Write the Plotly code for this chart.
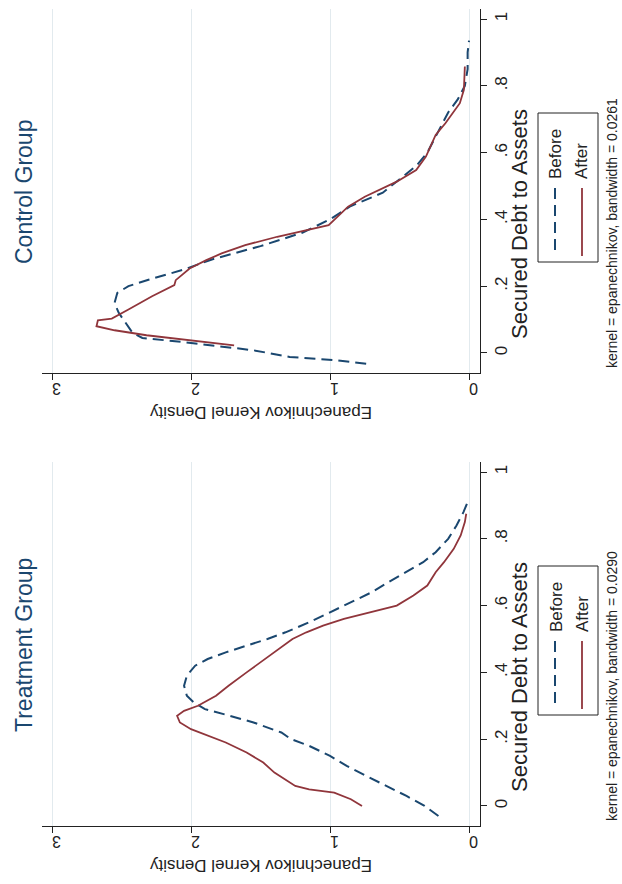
import plotly.graph_objects as go

W, H = 622, 884

# ---------------- data (secured debt to assets  vs  kernel density) -------------
ctrl_before_x = [-0.032, -0.022, -0.012, 0.008, 0.03, 0.045, 0.06, 0.09, 0.12, 0.15, 0.18,
                 0.20, 0.22, 0.25, 0.28, 0.32, 0.36, 0.40, 0.44, 0.48, 0.52, 0.56, 0.60,
                 0.64, 0.68, 0.72, 0.76, 0.80, 0.85, 0.90, 0.935]
ctrl_before_d = [0.74, 0.95, 1.29, 1.55, 2.0, 2.35, 2.42, 2.47, 2.52, 2.55, 2.53,
                 2.45, 2.3, 2.05, 1.85, 1.5, 1.2, 1.0, 0.85, 0.62, 0.5, 0.38, 0.30,
                 0.25, 0.2, 0.15, 0.08, 0.03, 0.01, 0.01, 0.0]

ctrl_after_x = [0.023, 0.038, 0.053, 0.068, 0.08, 0.098, 0.103, 0.13, 0.17, 0.203, 0.218,
                0.253, 0.278, 0.298, 0.323, 0.348, 0.368, 0.383, 0.438, 0.468, 0.513,
                0.548, 0.588, 0.628, 0.653, 0.688, 0.748, 0.788, 0.858]
ctrl_after_d = [1.69, 2.01, 2.32, 2.55, 2.68, 2.67, 2.57, 2.45, 2.28, 2.12, 2.11,
                2.01, 1.89, 1.78, 1.61, 1.38, 1.18, 1.01, 0.87, 0.75, 0.52,
                0.38, 0.31, 0.27, 0.24, 0.17, 0.066, 0.037, 0.03]

treat_before_x = [-0.03, 0.0, 0.03, 0.06, 0.09, 0.12, 0.15, 0.18, 0.20, 0.22, 0.25, 0.27,
                  0.29, 0.31, 0.33, 0.36, 0.39, 0.42, 0.44, 0.46, 0.48, 0.50, 0.52, 0.55,
                  0.58, 0.61, 0.64, 0.67, 0.70, 0.73, 0.76, 0.80, 0.84, 0.88, 0.92]
treat_before_d = [0.22, 0.32, 0.45, 0.6, 0.74, 0.88, 1.0, 1.15, 1.28, 1.35, 1.55, 1.72,
                  1.9, 1.98, 2.03, 2.05, 2.03, 1.97, 1.88, 1.75, 1.6, 1.45, 1.32, 1.15,
                  1.0, 0.85, 0.7, 0.58, 0.45, 0.33, 0.24, 0.15, 0.09, 0.04, 0.0]

treat_after_x = [0.0, 0.02, 0.04, 0.05, 0.06, 0.08, 0.10, 0.13, 0.16, 0.19, 0.21, 0.23,
                 0.25, 0.27, 0.285, 0.30, 0.33, 0.36, 0.40, 0.44, 0.47, 0.50, 0.52, 0.54,
                 0.56, 0.58, 0.60, 0.63, 0.66, 0.70, 0.73, 0.77, 0.81, 0.85, 0.875]
treat_after_d = [0.77, 0.85, 0.97, 1.15, 1.25, 1.33, 1.4, 1.48, 1.6, 1.75, 1.88, 2.0,
                 2.08, 2.1, 2.05, 1.95, 1.82, 1.73, 1.6, 1.47, 1.37, 1.27, 1.17, 1.05,
                 0.9, 0.7, 0.52, 0.4, 0.3, 0.24, 0.18, 0.11, 0.06, 0.03, 0.02]

density_ticks = [0, 1, 2, 3]
density_labels = ["0", "1", "2", "3"]
share_ticks = [0, 0.2, 0.4, 0.6, 0.8, 1.0]
share_labels = ["0", ".2", ".4", ".6", ".8", "1"]

panels = [
    dict(title="Control Group", note="kernel = epanechnikov, bandwidth = 0.0261",
         bx=ctrl_before_x, bd=ctrl_before_d, ax=ctrl_after_x, ad=ctrl_after_d, off=0),
    dict(title="Treatment Group", note="kernel = epanechnikov, bandwidth = 0.0290",
         bx=treat_before_x, bd=treat_before_d, ax=treat_after_x, ad=treat_after_d, off=453),
]

NAVY = "#1a476f"
MAROON = "#90353b"
GRID = "#e2eaee"
FONT = "Liberation Sans, Arial, sans-serif"
DASH = "11px,6px"

def px(x):
    return x / W

def py(y):
    return 1 - y / H

fig = go.Figure()
annotations = []
shapes = []

for i, p in enumerate(panels):
    n = "" if i == 0 else str(i + 1)
    xa, ya = "x" + n, "y" + n
    off = p["off"]
    fig.add_trace(go.Scatter(x=p["bd"], y=p["bx"], xaxis=xa, yaxis=ya, mode="lines",
                             line=dict(color=NAVY, width=2, dash=DASH),
                             name="Before", showlegend=False))
    fig.add_trace(go.Scatter(x=p["ad"], y=p["ax"], xaxis=xa, yaxis=ya, mode="lines",
                             line=dict(color=MAROON, width=1.8),
                             name="After", showlegend=False))
    top, bot = 9 + off, 373 + off
    fig.layout["xaxis" + n] = dict(
        domain=[px(42), px(480)], anchor=ya, range=[3.072, -0.079],
        tickvals=density_ticks, ticktext=density_labels, tickangle=180,
        ticks="outside", ticklen=6, tickcolor="#222", showline=True, linecolor="#222",
        linewidth=1, showgrid=True, gridcolor=GRID, gridwidth=1, zeroline=False,
        tickfont=dict(family=FONT, size=16, color="#222"), fixedrange=True)
    fig.layout["yaxis" + n] = dict(
        domain=[py(bot), py(top)], anchor=xa, side="right", range=[-0.06, 1.03],
        tickvals=share_ticks, ticktext=share_labels, tickangle=-90,
        ticks="outside", ticklen=6, tickcolor="#222", showline=True, linecolor="#222",
        linewidth=1, showgrid=False, zeroline=False,
        tickfont=dict(family=FONT, size=17, color="#222"), fixedrange=True)

    # titles and axis titles
    annotations.append(dict(text=p["title"], x=px(24), y=py(192 + off), xref="paper", yref="paper",
                            textangle=-90, showarrow=False, xanchor="center", yanchor="middle",
                            font=dict(family=FONT, size=23, color=NAVY)))
    annotations.append(dict(text="Secured Debt to Assets", x=px(519), y=py(224 + off),
                            xref="paper", yref="paper", textangle=-90, showarrow=False,
                            xanchor="center", yanchor="middle",
                            font=dict(family=FONT, size=22, color="#222")))
    annotations.append(dict(text="Epanechnikov Kernel Density", x=px(261), y=py(413 + off),
                            xref="paper", yref="paper", textangle=180, showarrow=False,
                            xanchor="center", yanchor="middle",
                            font=dict(family=FONT, size=17, color="#222")))
    annotations.append(dict(text=p["note"], x=px(612), y=py(233 + off), xref="paper", yref="paper",
                            textangle=-90, showarrow=False, xanchor="center", yanchor="middle",
                            font=dict(family=FONT, size=14, color="#222")))
    # legend
    shapes.append(dict(type="rect", xref="paper", yref="paper", x0=px(538), x1=px(598),
                       y0=py(113 + off), y1=py(262 + off), line=dict(color="#222", width=1)))
    shapes.append(dict(type="line", xref="paper", yref="paper", x0=px(555), x1=px(555),
                       y0=py(188 + off), y1=py(256 + off),
                       line=dict(color=NAVY, width=2, dash=DASH)))
    shapes.append(dict(type="line", xref="paper", yref="paper", x0=px(582), x1=px(582),
                       y0=py(188 + off), y1=py(256 + off), line=dict(color=MAROON, width=1.8)))
    annotations.append(dict(text="Before", x=px(556), y=py(181 + off), xref="paper", yref="paper",
                            textangle=-90, showarrow=False, xanchor="center", yanchor="bottom",
                            font=dict(family=FONT, size=17, color="#222")))
    annotations.append(dict(text="After", x=px(582), y=py(181 + off), xref="paper", yref="paper",
                            textangle=-90, showarrow=False, xanchor="center", yanchor="bottom",
                            font=dict(family=FONT, size=17, color="#222")))

fig.update_layout(width=W, height=H, margin=dict(l=0, r=0, t=0, b=0),
                  paper_bgcolor="white", plot_bgcolor="white",
                  annotations=annotations, shapes=shapes, showlegend=False)

fig.write_html("out.html", config={"displayModeBar": False},
               post_script="document.body.style.margin='0px';document.body.style.overflow='hidden';")
